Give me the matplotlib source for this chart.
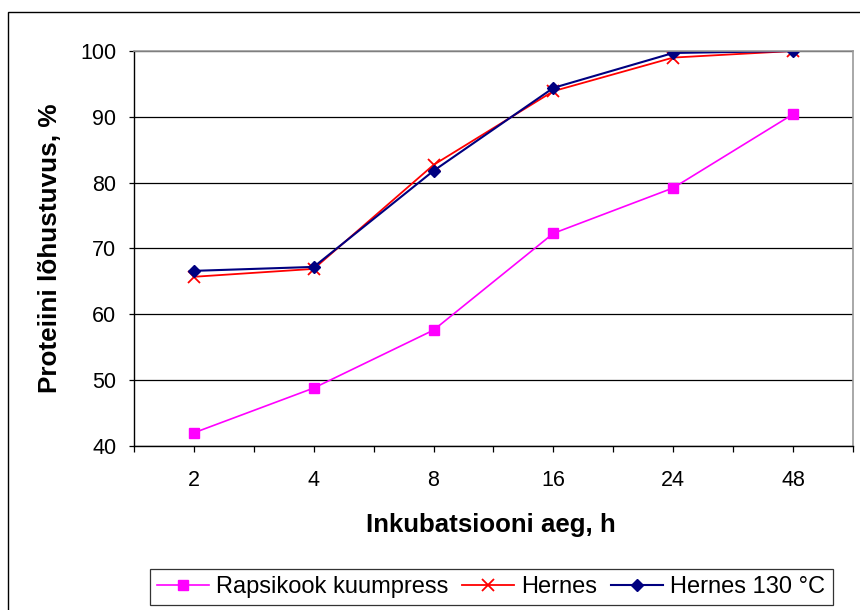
import matplotlib

matplotlib.use("Agg")
import matplotlib.pyplot as plt
from matplotlib.patches import Rectangle

plt.rcParams["font.family"] = ["Liberation Sans", "DejaVu Sans"]

hours = ["2", "4", "8", "16", "24", "48"]
rapsikook = [42.0, 48.8, 57.6, 72.3, 79.2, 90.4]
hernes = [65.7, 66.9, 82.7, 93.9, 99.0, 100.0]
hernes_130 = [66.6, 67.2, 81.8, 94.4, 99.7, 100.0]

fig = plt.figure(figsize=(8.6, 6.1), dpi=100)
ax = fig.add_axes([0.1558, 0.2689, 0.836, 0.6475])

x = range(len(hours))
ax.plot(x, rapsikook, color="#ff00ff", linewidth=1.2, marker="s", markersize=7.5,
        label="Rapsikook kuumpress")
ax.plot(x, hernes, color="#ff0000", linewidth=1.3, marker="x", markersize=8,
        markeredgewidth=1.3, label="Hernes")
ax.plot(x, hernes_130, color="#000080", linewidth=1.5, marker="D", markersize=6.5,
        label="Hernes 130 °C")

ax.set_xlim(-0.5, len(hours) - 0.5)
ax.set_ylim(40, 100)
ax.set_yticks(range(40, 101, 10))
ax.set_xticks(list(x))
ax.set_xticklabels(hours)
ax.set_xticks([i - 0.5 for i in range(len(hours) + 1)], minor=True)

ax.grid(axis="y", color="black", linewidth=0.9)
ax.set_axisbelow(True)
for side in ("top", "right"):
    ax.spines[side].set_color("#999999")
    ax.spines[side].set_linewidth(1.2)
for side in ("left", "bottom"):
    ax.spines[side].set_color("black")
    ax.spines[side].set_linewidth(1.0)

ax.tick_params(axis="x", which="both", direction="out", length=4.5, width=0.9, pad=13, labelsize=15.5)
ax.tick_params(axis="y", direction="out", length=3.6, width=0.9, pad=9, labelsize=15.5)

ax.set_ylabel("Proteiini lõhustuvus, %", fontsize=18.8, fontweight="bold")
ax.set_xlabel("Inkubatsiooni aeg, h", fontsize=18.6, fontweight="bold")
ax.yaxis.set_label_coords(-0.100, 0.50)
ax.xaxis.set_label_coords(0.4965, -0.17)

leg = fig.legend(loc="center", bbox_to_anchor=(0.571, 0.038), ncol=3, fontsize=17,
                 frameon=True, fancybox=False, edgecolor="black", handlelength=2.2,
                 columnspacing=0.6, handletextpad=0.3, borderpad=0.3)
leg.get_frame().set_linewidth(0.9)

# outer chart border
fig.patches.append(Rectangle((8 / 860, -0.1), 1.2, 1.1 - 12 / 610,
                             transform=fig.transFigure, fill=False,
                             edgecolor="black", linewidth=1.0))

fig.savefig("out.png", dpi=100)
plt.close(fig)
